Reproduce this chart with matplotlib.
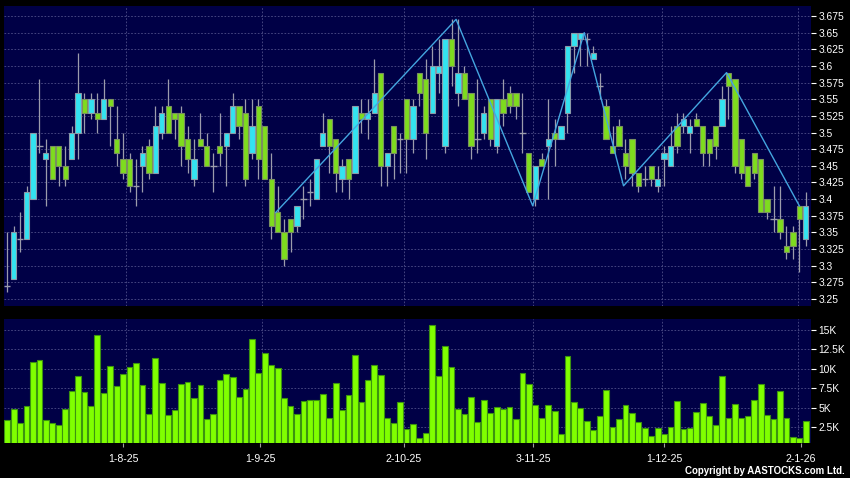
import matplotlib
matplotlib.use('Agg')
import matplotlib.pyplot as plt
import numpy as np

plt.rcParams['font.family'] = ['Liberation Sans', 'DejaVu Sans']

# daily candles (index 0 = first bar)
opens = [3.27, 3.28, 3.34, 3.34, 3.40, 3.48, 3.46, 3.48, 3.48, 3.45,
         3.46, 3.50, 3.55, 3.53, 3.53, 3.52, 3.55, 3.49, 3.46, 3.46,
         3.42, 3.45, 3.48, 3.44, 3.50, 3.54, 3.53, 3.53, 3.49, 3.43,
         3.49, 3.48, 3.45, 3.48, 3.48, 3.50, 3.54, 3.53, 3.47, 3.54,
         3.51, 3.43, 3.38, 3.35, 3.37, 3.36, 3.40, 3.41, 3.40, 3.48,
         3.52, 3.49, 3.43, 3.46, 3.44, 3.53, 3.52, 3.53, 3.59, 3.45,
         3.51, 3.49, 3.55, 3.49, 3.59, 3.58, 3.53, 3.59, 3.48, 3.64,
         3.56, 3.59, 3.56, 3.49, 3.50, 3.55, 3.48, 3.55, 3.56, 3.56,
         3.50, 3.47, 3.40, 3.46, 3.48, 3.50, 3.49, 3.53, 3.63, 3.64,
         3.64, 3.61, 3.57, 3.54, 3.48, 3.51, 3.47, 3.49, 3.44, 3.43,
         3.45, 3.42, 3.46, 3.45, 3.51, 3.51, 3.50, 3.52, 3.51, 3.49,
         3.51, 3.51, 3.59, 3.58, 3.49, 3.45, 3.47, 3.46, 3.40, 3.37,
         3.37, 3.33, 3.35, 3.39, 3.34]
highs = [3.35, 3.36, 3.38, 3.42, 3.50, 3.58, 3.49, 3.48, 3.48, 3.48,
         3.51, 3.62, 3.56, 3.56, 3.56, 3.58, 3.55, 3.54, 3.50, 3.47,
         3.46, 3.48, 3.49, 3.54, 3.54, 3.58, 3.53, 3.54, 3.51, 3.49,
         3.53, 3.50, 3.47, 3.53, 3.50, 3.56, 3.54, 3.55, 3.55, 3.55,
         3.51, 3.47, 3.42, 3.37, 3.37, 3.39, 3.42, 3.43, 3.46, 3.53,
         3.52, 3.49, 3.46, 3.46, 3.54, 3.55, 3.55, 3.61, 3.59, 3.47,
         3.51, 3.50, 3.55, 3.55, 3.59, 3.61, 3.63, 3.64, 3.64, 3.67,
         3.67, 3.60, 3.56, 3.58, 3.54, 3.55, 3.55, 3.58, 3.57, 3.56,
         3.56, 3.47, 3.45, 3.47, 3.55, 3.52, 3.51, 3.63, 3.65, 3.65,
         3.65, 3.63, 3.59, 3.55, 3.51, 3.52, 3.49, 3.49, 3.44, 3.45,
         3.45, 3.45, 3.48, 3.51, 3.53, 3.53, 3.52, 3.53, 3.51, 3.49,
         3.51, 3.57, 3.59, 3.58, 3.49, 3.45, 3.47, 3.46, 3.40, 3.42,
         3.42, 3.36, 3.36, 3.39, 3.41]
lows = [3.26, 3.28, 3.32, 3.34, 3.40, 3.47, 3.39, 3.43, 3.42, 3.42,
        3.46, 3.46, 3.50, 3.52, 3.50, 3.52, 3.48, 3.45, 3.43, 3.41,
        3.39, 3.41, 3.43, 3.44, 3.49, 3.50, 3.49, 3.45, 3.44, 3.42,
        3.48, 3.45, 3.41, 3.45, 3.42, 3.50, 3.49, 3.42, 3.46, 3.43,
        3.43, 3.34, 3.35, 3.30, 3.32, 3.35, 3.37, 3.39, 3.40, 3.48,
        3.44, 3.41, 3.41, 3.40, 3.44, 3.50, 3.49, 3.53, 3.42, 3.42,
        3.43, 3.44, 3.44, 3.47, 3.54, 3.46, 3.53, 3.56, 3.47, 3.57,
        3.54, 3.55, 3.46, 3.47, 3.49, 3.48, 3.47, 3.51, 3.53, 3.52,
        3.47, 3.41, 3.39, 3.45, 3.40, 3.45, 3.49, 3.50, 3.59, 3.60,
        3.60, 3.61, 3.55, 3.49, 3.47, 3.48, 3.43, 3.42, 3.41, 3.42,
        3.42, 3.41, 3.42, 3.45, 3.47, 3.50, 3.47, 3.51, 3.45, 3.45,
        3.46, 3.51, 3.52, 3.44, 3.43, 3.42, 3.43, 3.38, 3.37, 3.35,
        3.34, 3.31, 3.31, 3.29, 3.33]
closes = [3.27, 3.35, 3.34, 3.41, 3.50, 3.48, 3.47, 3.43, 3.45, 3.43,
          3.50, 3.56, 3.53, 3.55, 3.52, 3.55, 3.54, 3.47, 3.44, 3.42,
          3.42, 3.47, 3.44, 3.51, 3.53, 3.50, 3.52, 3.48, 3.46, 3.46,
          3.48, 3.45, 3.45, 3.47, 3.50, 3.54, 3.51, 3.43, 3.51, 3.46,
          3.43, 3.36, 3.35, 3.31, 3.35, 3.39, 3.40, 3.41, 3.46, 3.50,
          3.48, 3.44, 3.45, 3.43, 3.54, 3.52, 3.53, 3.56, 3.45, 3.47,
          3.47, 3.49, 3.49, 3.54, 3.56, 3.50, 3.60, 3.60, 3.64, 3.60,
          3.59, 3.55, 3.48, 3.49, 3.53, 3.49, 3.55, 3.53, 3.54, 3.54,
          3.50, 3.41, 3.45, 3.45, 3.49, 3.49, 3.51, 3.63, 3.65, 3.65,
          3.64, 3.62, 3.57, 3.49, 3.47, 3.48, 3.45, 3.44, 3.42, 3.43,
          3.43, 3.43, 3.47, 3.48, 3.48, 3.52, 3.51, 3.51, 3.47, 3.47,
          3.48, 3.55, 3.57, 3.45, 3.44, 3.42, 3.44, 3.38, 3.38, 3.37,
          3.35, 3.32, 3.33, 3.37, 3.39]

# volume in thousands
volume_k = [3.4, 4.8, 3.0, 5.2, 10.9, 11.1, 3.5, 3.1, 2.8, 4.9,
            7.2, 9.05, 7.0, 5.3, 14.3, 6.9, 10.4, 7.8, 9.4, 10.25,
            10.7, 7.9, 4.2, 11.45, 8.15, 4.1, 4.7, 8.0, 8.35, 6.2,
            7.9, 3.6, 4.25, 8.6, 9.3, 9.0, 6.4, 7.4, 13.9, 9.45,
            12.1, 10.45, 10.1, 6.3, 5.25, 4.2, 5.9, 6.0, 5.95, 6.8,
            3.65, 8.15, 4.7, 6.65, 11.8, 5.8, 8.6, 10.55, 9.2, 3.65,
            3.05, 5.7, 2.3, 2.9, 1.1, 1.8, 15.6, 9.05, 13.0, 10.25,
            4.8, 4.2, 6.45, 3.15, 5.95, 4.3, 5.1, 4.8, 5.1, 3.6,
            9.5, 8.0, 5.35, 3.75, 5.4, 4.6, 1.6, 11.6, 5.75, 4.95,
            3.3, 2.1, 3.9, 7.3, 2.5, 3.55, 5.35, 4.4, 3.2, 2.45,
            1.4, 2.45, 1.6, 2.55, 5.85, 2.25, 2.4, 4.45, 5.6, 3.95,
            2.75, 9.05, 3.65, 5.45, 3.7, 4.0, 6.0, 8.0, 4.1, 3.55,
            7.1, 3.65, 1.25, 1.1, 3.3]

date_labels = ['1-8-25', '1-9-25', '2-10-25', '3-11-25', '1-12-25', '2-1-26']
date_pos = [18.0, 39.3, 61.6, 81.7, 102.0, 123.2]
grid_pos = [18.5, 39.5, 61.6, 81.6, 101.6, 122.75]

# zigzag trend line pivots
zigzag_x = [41.7, 69.7, 81.6, 89.6, 95.7, 111.7, 123.0]
zigzag_y = [3.38, 3.67, 3.39, 3.65, 3.42, 3.59, 3.39]

price_ticks = [3.25, 3.275, 3.3, 3.325, 3.35, 3.375, 3.4, 3.425, 3.45,
               3.475, 3.5, 3.525, 3.55, 3.575, 3.6, 3.625, 3.65, 3.675]
price_labels = ['3.25', '3.275', '3.3', '3.325', '3.35', '3.375', '3.4',
                '3.425', '3.45', '3.475', '3.5', '3.525', '3.55', '3.575',
                '3.6', '3.625', '3.65', '3.675']
vol_ticks = [2.5, 5, 7.5, 10, 12.5, 15]
vol_labels = ['2.5K', '5K', '7.5K', '10K', '12.5K', '15K']

navy = '#000046'
cyan = '#33e3f0'
green = '#7edc1e'
wick = '#9c9cac'
grid_c = '#50508a'

fig = plt.figure(figsize=(8.5, 4.78), dpi=100, facecolor='black')
ax = fig.add_axes([0.0047, 0.3598, 0.9491, 0.6276], facecolor=navy)
axv = fig.add_axes([0.0047, 0.0722, 0.9491, 0.2605], facecolor=navy)

o = np.array(opens)
h = np.array(highs)
l = np.array(lows)
c = np.array(closes)
x = np.arange(len(o))
up = c > o + 1e-9
down = c < o - 1e-9
flat = ~(up | down)

# grid
for p in price_ticks:
    ax.axhline(p, color=grid_c, lw=0.6, ls=(0, (2, 2)), zorder=1)
for v in vol_ticks:
    axv.axhline(v, color=grid_c, lw=0.6, ls=(0, (2, 2)), zorder=1)
for g in grid_pos:
    ax.axvline(g, color=grid_c, lw=0.6, ls=(0, (2, 2)), zorder=1)
    axv.axvline(g, color=grid_c, lw=0.6, ls=(0, (2, 2)), zorder=1)

# candles
ax.vlines(x, l, h, color=wick, lw=0.9, zorder=2)
ax.bar(x[up], (c - o)[up], bottom=o[up], width=0.82, color=cyan,
       edgecolor='#8a9aa8', lw=0.8, zorder=3)
ax.bar(x[down], (o - c)[down], bottom=c[down], width=0.82, color=green,
       edgecolor='#7a9060', lw=0.8, zorder=3)
ax.hlines(o[flat], x[flat] - 0.5, x[flat] + 0.5, color=wick, lw=1, zorder=3)

ax.plot(zigzag_x, zigzag_y, color='#44a6e0', lw=1, zorder=4)

# volume
axv.bar(x, volume_k, width=0.9, color='#80ff00', edgecolor='#3c9410',
        lw=0.8, zorder=3)

ax.set_xlim(-0.5, 124.77)
axv.set_xlim(-0.5, 124.77)
ax.set_ylim(3.2395, 3.690)
axv.set_ylim(0.424, 16.41)

for a in (ax, axv):
    for s in a.spines.values():
        s.set_visible(False)
    a.yaxis.tick_right()
    a.tick_params(axis='y', length=3.5, width=0.8, color='white', pad=2,
                  labelsize=7.4, labelcolor='white')

ax.set_yticks(price_ticks)
ax.set_yticklabels(price_labels)
ax.set_xticks([])
axv.set_yticks(vol_ticks)
axv.set_yticklabels(vol_labels)
axv.set_xticks(date_pos)
axv.set_xticklabels(date_labels)
axv.tick_params(axis='x', length=3, width=0.8, color='#a0a0a0', pad=4.5,
                labelsize=7.6, labelcolor='white')

fig.text(0.9935, 0.005, 'Copyright by AASTOCKS.com Ltd.', color='white',
         fontsize=7, fontweight='bold', ha='right', va='bottom')

fig.savefig('out.png', dpi=100, facecolor='black')
